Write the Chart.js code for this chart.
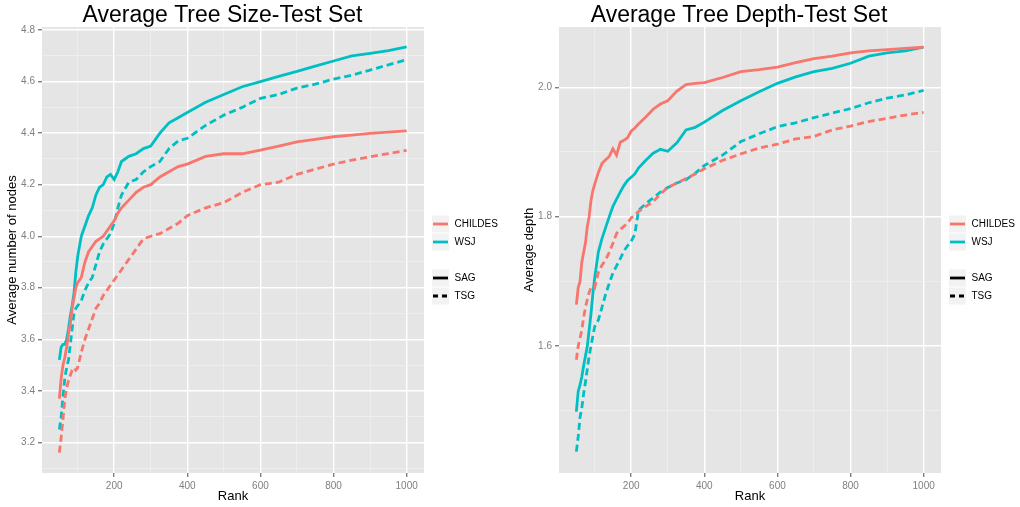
<!DOCTYPE html>
<html>
<head>
<meta charset="utf-8">
<script src="https://cdn.jsdelivr.net/npm/chart.js@4.4.1/dist/chart.umd.min.js"></script>
<style>
  body { margin: 0; background: #fff; }
  canvas { position: absolute; top: 0; }
  #sizeChart { left: 0; }
  #depthChart { left: 510px; }
</style>
</head>
<body>
<canvas id="sizeChart" width="510" height="507"></canvas>
<canvas id="depthChart" width="510" height="507"></canvas>
<script>
// rank (x) shared by every series
const ranks = [50, 55, 60, 65, 70, 75, 80, 85, 90, 95, 100, 110, 120, 130, 140, 150, 160, 170, 180, 190,
  200, 210, 220, 240, 260, 280, 300, 325, 350, 375, 400, 450, 500, 550, 600, 650, 700, 750, 800, 850, 900, 950, 1000];

// Average tree size (nodes)
const sizeChildesSag = [3.37, 3.45, 3.50, 3.53, 3.57, 3.62, 3.66, 3.72, 3.76, 3.80, 3.82, 3.84, 3.90, 3.94, 3.96, 3.98, 3.99, 4.00, 4.02, 4.04,
  4.06, 4.09, 4.11, 4.14, 4.17, 4.19, 4.20, 4.23, 4.25, 4.27, 4.28, 4.31, 4.32, 4.32, 4.334, 4.35, 4.366, 4.376, 4.386, 4.392, 4.399, 4.404, 4.409];
const sizeChildesTsg = [3.16, 3.22, 3.29, 3.37, 3.41, 3.44, 3.46, 3.48, 3.49, 3.48, 3.49, 3.55, 3.60, 3.64, 3.68, 3.72, 3.74, 3.77, 3.79, 3.81,
  3.83, 3.85, 3.87, 3.91, 3.95, 3.99, 4.00, 4.01, 4.03, 4.05, 4.08, 4.11, 4.13, 4.17, 4.20, 4.21, 4.24, 4.26, 4.28, 4.295, 4.308, 4.321, 4.333];
const sizeWsjSag = [3.52, 3.57, 3.58, 3.58, 3.60, 3.64, 3.69, 3.73, 3.78, 3.86, 3.92, 4.00, 4.04, 4.08, 4.11, 4.16, 4.19, 4.20, 4.23, 4.24,
  4.22, 4.25, 4.29, 4.31, 4.32, 4.34, 4.35, 4.40, 4.44, 4.46, 4.48, 4.52, 4.55, 4.58, 4.60, 4.62, 4.64, 4.66, 4.68, 4.70, 4.71, 4.72, 4.735];
const sizeWsjTsg = [3.25, 3.30, 3.38, 3.45, 3.49, 3.52, 3.58, 3.64, 3.70, 3.72, 3.73, 3.75, 3.79, 3.82, 3.84, 3.89, 3.94, 3.97, 3.99, 4.01,
  4.05, 4.11, 4.16, 4.21, 4.22, 4.25, 4.27, 4.29, 4.34, 4.37, 4.38, 4.43, 4.47, 4.50, 4.535, 4.55, 4.575, 4.59, 4.61, 4.625, 4.645, 4.665, 4.685];

// Average tree depth
const depthChildesSag = [1.664, 1.69, 1.70, 1.73, 1.745, 1.76, 1.785, 1.80, 1.825, 1.84, 1.85, 1.868, 1.882, 1.888, 1.893, 1.905, 1.895, 1.915, 1.918, 1.922,
  1.932, 1.937, 1.943, 1.954, 1.966, 1.974, 1.979, 1.994, 2.004, 2.006, 2.007, 2.015, 2.024, 2.027, 2.031, 2.038, 2.044, 2.048, 2.053, 2.056, 2.058, 2.060, 2.062];
const depthChildesTsg = [1.579, 1.60, 1.612, 1.625, 1.645, 1.66, 1.672, 1.683, 1.69, 1.692, 1.69, 1.714, 1.725, 1.733, 1.745, 1.759, 1.774, 1.78, 1.785, 1.79,
  1.798, 1.803, 1.808, 1.816, 1.823, 1.835, 1.845, 1.852, 1.859, 1.866, 1.874, 1.887, 1.897, 1.906, 1.912, 1.920, 1.924, 1.934, 1.940, 1.947, 1.952, 1.957, 1.961];
const depthWsjSag = [1.499, 1.53, 1.54, 1.553, 1.57, 1.585, 1.60, 1.625, 1.65, 1.68, 1.705, 1.745, 1.766, 1.783, 1.80, 1.816, 1.827, 1.838, 1.848, 1.856,
  1.861, 1.866, 1.875, 1.887, 1.898, 1.904, 1.901, 1.914, 1.934, 1.938, 1.946, 1.964, 1.979, 1.993, 2.006, 2.016, 2.024, 2.029, 2.037, 2.048, 2.053, 2.056, 2.062];
const depthWsjTsg = [1.437, 1.46, 1.49, 1.505, 1.527, 1.545, 1.565, 1.585, 1.60, 1.615, 1.63, 1.64, 1.66, 1.68, 1.697, 1.713, 1.724, 1.735, 1.747, 1.755,
  1.762, 1.773, 1.81, 1.82, 1.829, 1.838, 1.845, 1.852, 1.857, 1.867, 1.879, 1.895, 1.916, 1.928, 1.939, 1.945, 1.953, 1.960, 1.967, 1.976, 1.983, 1.988, 1.995];

// ticks (major = labelled, minor = grid only)
const rankMajor = [200, 400, 600, 800, 1000];
const rankMinor = [100, 300, 500, 700, 900];
const sizeMajor = [3.2, 3.4, 3.6, 3.8, 4.0, 4.2, 4.4, 4.6, 4.8];
const sizeMinor = [3.1, 3.3, 3.5, 3.7, 3.9, 4.1, 4.3, 4.5, 4.7];
const depthMajor = [1.6, 1.8, 2.0];
const depthMinor = [1.5, 1.7, 1.9];

const corpora = ["CHILDES", "WSJ"];
const grammars = ["SAG", "TSG"];

const CHILDES = "#F8766D";
const WSJ = "#00BFC4";
const FONT = "'Liberation Sans', Arial, sans-serif";
const DASH = [7, 4];

const pts = vals => ranks.map((r, i) => ({ x: r, y: vals[i] }));
const has = (arr, v) => arr.some(a => Math.abs(a - v) < 1e-9);

// panel background, title and the two-part ggplot legend
const ggDecor = {
  id: "ggDecor",
  beforeDraw(chart) {
    const { ctx, chartArea: a } = chart;
    ctx.save();
    ctx.fillStyle = "#E5E5E5";
    ctx.fillRect(a.left, a.top, a.right - a.left, a.bottom - a.top);
    ctx.restore();
  },
  afterDraw(chart, args, opts) {
    const ctx = chart.ctx;
    ctx.save();
    ctx.fillStyle = "#000";
    ctx.font = "23px " + FONT;
    ctx.textAlign = "center";
    ctx.textBaseline = "alphabetic";
    ctx.fillText(opts.title, opts.titleX, 22);

    const kx = opts.legendX;
    const keys = [
      { label: corpora[0], color: CHILDES, dash: [], y: 224 },
      { label: corpora[1], color: WSJ, dash: [], y: 242 },
      { label: grammars[0], color: "#000", dash: [], y: 278 },
      { label: grammars[1], color: "#000", dash: [5, 4], y: 296 },
    ];
    keys.forEach(k => {
      ctx.fillStyle = "#F2F2F2";
      ctx.fillRect(kx, k.y - 8.5, 17, 17);
      ctx.strokeStyle = k.color;
      ctx.lineWidth = 2.8;
      ctx.setLineDash(k.dash);
      ctx.beginPath();
      ctx.moveTo(kx + 1, k.y);
      ctx.lineTo(kx + 16, k.y);
      ctx.stroke();
      ctx.setLineDash([]);
      ctx.fillStyle = "#000";
      ctx.font = "10px " + FONT;
      ctx.textAlign = "left";
      ctx.textBaseline = "middle";
      ctx.fillText(k.label, kx + 22.5, k.y + 0.5);
    });
    ctx.restore();
  }
};

function lines(cs, ct, ws, wt) {
  const base = { pointRadius: 0, borderWidth: 2.8, tension: 0, fill: false };
  return [
    { ...base, label: "CHILDES SAG", data: pts(cs), borderColor: CHILDES },
    { ...base, label: "CHILDES TSG", data: pts(ct), borderColor: CHILDES, borderDash: DASH },
    { ...base, label: "WSJ SAG", data: pts(ws), borderColor: WSJ },
    { ...base, label: "WSJ TSG", data: pts(wt), borderColor: WSJ, borderDash: DASH },
  ];
}

function axis(major, minor, min, max, fit, title, titlePad, fmt) {
  const all = major.concat(minor).sort((a, b) => a - b);
  return {
    type: "linear",
    min: min,
    max: max,
    afterFit: fit,
    afterBuildTicks: s => { s.ticks = all.map(v => ({ value: v })); },
    border: { display: false },
    grid: {
      color: c => (c.tick && has(major, c.tick.value)) ? "#FFFFFF" : "#F2F2F2",
      lineWidth: c => (c.tick && has(major, c.tick.value)) ? 1.4 : 0.7,
      tickColor: c => (c.tick && has(major, c.tick.value)) ? "#7F7F7F" : "rgba(0,0,0,0)",
      tickLength: 4,
    },
    ticks: {
      autoSkip: false,
      maxRotation: 0,
      padding: 3,
      color: "#7F7F7F",
      font: { family: FONT, size: 10 },
      callback: v => has(major, v) ? fmt(v) : "",
    },
    title: {
      display: true,
      text: title,
      color: "#000",
      font: { family: FONT, size: 13 },
      padding: titlePad,
    },
  };
}

function makeChart(id, datasets, yAxis, decor, padRight) {
  return new Chart(document.getElementById(id).getContext("2d"), {
    type: "line",
    data: { datasets: datasets },
    options: {
      responsive: false,
      animation: false,
      layout: { padding: { top: 27, right: padRight, left: 0, bottom: 0 } },
      scales: {
        x: axis(rankMajor, rankMinor, 2.5, 1047.5, s => { s.height = 34; }, "Rank", { top: 0, bottom: 3 }, v => String(v)),
        y: yAxis,
      },
      plugins: {
        legend: { display: false },
        tooltip: { enabled: false },
        ggDecor: decor,
      },
    },
    plugins: [ggDecor],
  });
}

makeChart("sizeChart",
  lines(sizeChildesSag, sizeChildesTsg, sizeWsjSag, sizeWsjTsg),
  axis(sizeMajor, sizeMinor, 3.081, 4.812, s => { s.width = 42; }, "Average number of nodes", { top: 5, bottom: 0 }, v => v.toFixed(1)),
  { title: "Average Tree Size-Test Set", titleX: 222.5, legendX: 432 },
  86);

makeChart("depthChart",
  lines(depthChildesSag, depthChildesTsg, depthWsjSag, depthWsjTsg),
  axis(depthMajor, depthMinor, 1.404, 2.093, s => { s.width = 49; }, "Average depth", { top: 12, bottom: 0 }, v => v.toFixed(1)),
  { title: "Average Tree Depth-Test Set", titleX: 229, legendX: 439 },
  79);
</script>
</body>
</html>
